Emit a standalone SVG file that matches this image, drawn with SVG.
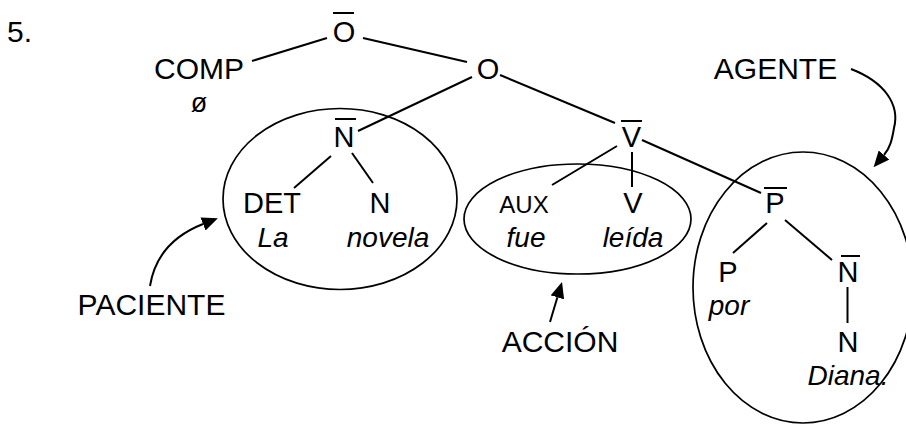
<svg xmlns="http://www.w3.org/2000/svg" width="906" height="424" viewBox="0 0 906 424">
<style>
text{font-family:"Liberation Sans",Arial,sans-serif;fill:#000;text-anchor:middle}
.n{font-size:29px}
.r{font-size:30px}
.w{font-size:28px;font-style:italic}
.s{font-size:24px}
.z{font-size:27px}
.bar{stroke:#000;stroke-width:2}
.e{fill:none;stroke:#000;stroke-width:1.7}
.c line,.c path{stroke:#000;stroke-width:2;fill:none}
</style>
<defs>
<marker id="ah" markerWidth="16" markerHeight="14" refX="0" refY="7" orient="auto" markerUnits="userSpaceOnUse">
<path d="M0,0 L16,7 L0,14 z" fill="#000"/>
</marker>
</defs>
<rect width="906" height="424" fill="#fff"/>
<text x="7" y="42" class="r" style="text-anchor:start">5.</text>

<g id="ellipses">
<ellipse class="e" cx="340" cy="199" rx="117" ry="90.5"/>
<ellipse class="e" cx="577.5" cy="219" rx="113.5" ry="55"/>
<ellipse class="e" cx="803" cy="287.5" rx="110" ry="135.5"/>
</g>

<g class="c" id="connectors">
<line x1="252" y1="61" x2="327" y2="38"/>
<line x1="363" y1="38" x2="467" y2="62"/>
<line x1="472" y1="77" x2="358" y2="131"/>
<line x1="500" y1="75" x2="615" y2="123"/>
<line x1="331" y1="156" x2="294" y2="188"/>
<line x1="352" y1="153" x2="373" y2="183"/>
<line x1="617" y1="146" x2="552" y2="185"/>
<line x1="632" y1="152" x2="632" y2="187"/>
<line x1="642" y1="140" x2="761" y2="193"/>
<line x1="767" y1="223" x2="733" y2="253"/>
<line x1="785" y1="220" x2="832" y2="260"/>
<line x1="847.5" y1="287" x2="847.5" y2="323"/>
<path d="M851,69 C885,82 900,105 894,128 C892,140 890,148 884,155" marker-end="url(#ah)"/>
<path d="M150,286 C155,255 175,235 203,224" marker-end="url(#ah)"/>
<path d="M550,322 L557.4,297.3" marker-end="url(#ah)"/>
</g>

<g id="O-bar"><text x="344" y="42" class="n">O</text><line class="bar" x1="333" y1="13" x2="354" y2="13"/></g>
<g id="COMP"><text x="199" y="79" class="r">COMP</text><text x="199" y="112" class="z">ø</text></g>
<g id="O"><text x="488" y="79" class="n">O</text></g>
<g id="AGENTE"><text x="775.5" y="79" class="r">AGENTE</text></g>
<g id="N-bar-1"><text x="344" y="147" class="n">N</text><line class="bar" x1="335" y1="119" x2="356" y2="119"/></g>
<g id="V-bar"><text x="631.5" y="147" class="n">V</text><line class="bar" x1="621" y1="121" x2="642" y2="121"/></g>
<g id="DET"><text x="272" y="213" class="n">DET</text><text x="273" y="247" class="w">La</text></g>
<g id="N-1"><text x="380" y="213" class="n">N</text><text x="388" y="247" class="w">novela</text></g>
<g id="AUX"><text x="524" y="213" class="s">AUX</text><text x="526" y="247" class="w">fue</text></g>
<g id="V"><text x="633" y="213" class="n">V</text><text x="633" y="247" class="w">leída</text></g>
<g id="P-bar"><text x="775" y="213" class="n">P</text><line class="bar" x1="764" y1="188" x2="787" y2="188"/></g>
<g id="P"><text x="728" y="282" class="n">P</text><text x="729" y="315" class="w">por</text></g>
<g id="N-bar-2"><text x="848" y="282" class="n">N</text><line class="bar" x1="841" y1="256" x2="860" y2="256"/></g>
<g id="N-2"><text x="848" y="352" class="n">N</text><text x="848" y="385" class="w">Diana.</text></g>
<g id="PACIENTE"><text x="151.5" y="315" class="r">PACIENTE</text></g>
<g id="ACCION"><text x="560" y="352" class="r">ACCIÓN</text></g>
</svg>
